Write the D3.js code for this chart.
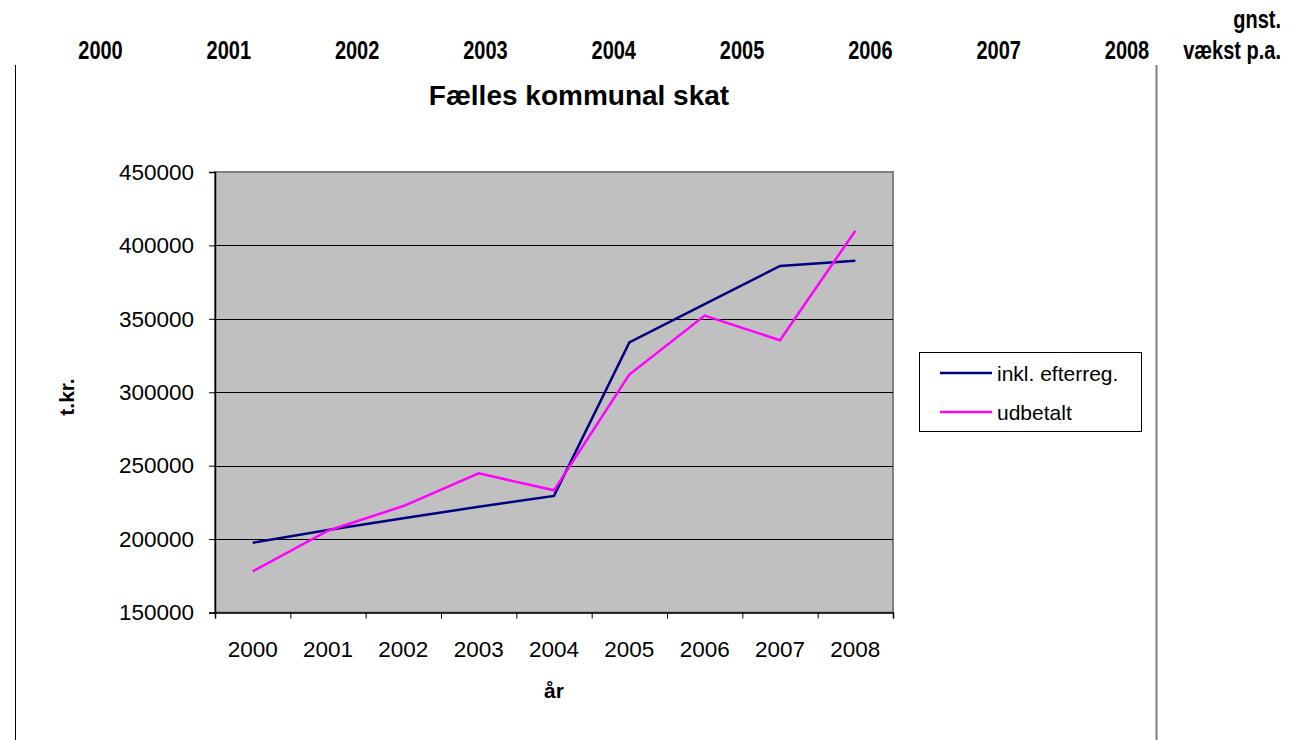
<!DOCTYPE html>
<html>
<head>
<meta charset="utf-8">
<script src="https://cdn.jsdelivr.net/npm/d3@7"></script>
<style>
  body { margin: 0; background: #fff; }
  svg { display: block; font-family: "Liberation Sans", Arial, sans-serif; }
  .hdr { font-weight: bold; font-size: 25px; }
</style>
</head>
<body>
<div id="chart"></div>
<script>
// data
var years = ["2000", "2001", "2002", "2003", "2004", "2005", "2006", "2007", "2008"];
var inklEfterreg = [197500, 206200, 214200, 222000, 229400, 334000, 360000, 386000, 389600];
var udbetalt = [178000, 205700, 222500, 244800, 233200, 312000, 352200, 335400, 410000];
var yTicks = [150000, 200000, 250000, 300000, 350000, 400000, 450000];
var headerCols = ["2000", "2001", "2002", "2003", "2004", "2005", "2006", "2007", "2008"];

var width = 1296;
var height = 740;

var plotL = 215, plotR = 893, plotT = 172, plotB = 612.5;
var narrow = 0.8; // header row uses a condensed bold face

var svg = d3.select("#chart").append("svg")
    .attr("width", width)
    .attr("height", height);

/* spreadsheet header row above the chart */
var hdrX = d3.scalePoint().domain(headerCols).range([100.5, 1127]);
svg.selectAll(".hdrYear")
    .data(headerCols).enter()
    .append("text")
    .attr("class", "hdr")
    .attr("transform", d => `translate(${hdrX(d)},59) scale(${narrow},1)`)
    .attr("text-anchor", "middle")
    .text(d => d);
svg.append("text").attr("class", "hdr")
    .attr("transform", `translate(1281,28) scale(${narrow},1)`)
    .attr("text-anchor", "end").text("gnst.");
svg.append("text").attr("class", "hdr")
    .attr("transform", `translate(1281,59) scale(${narrow},1)`)
    .attr("text-anchor", "end").text("vækst p.a.");

// chart object edges
svg.append("line").attr("x1", 15.5).attr("x2", 15.5).attr("y1", 65).attr("y2", height)
    .attr("stroke", "#000").attr("stroke-width", 1);
svg.append("line").attr("x1", 1156.5).attr("x2", 1156.5).attr("y1", 65).attr("y2", height)
    .attr("stroke", "#808080").attr("stroke-width", 2);

/* Scales */
var x = d3.scaleBand().domain(years).range([plotL, plotR]).padding(0);
var xEdge = d3.scaleLinear().domain([0, years.length]).range([plotL, plotR]);
var y = d3.scaleLinear().domain([150000, 450000]).range([plotB, plotT]);

// plot area
svg.append("rect")
    .attr("x", plotL).attr("y", plotT)
    .attr("width", plotR - plotL).attr("height", plotB - plotT)
    .attr("fill", "#c0c0c0")
    .attr("stroke", "#808080")
    .attr("stroke-width", 2);

// gridlines
svg.append("g")
    .selectAll("line")
    .data(yTicks.slice(1, -1)).enter()
    .append("line")
    .attr("x1", plotL).attr("x2", plotR)
    .attr("y1", d => Math.round(y(d)) + 0.5).attr("y2", d => Math.round(y(d)) + 0.5)
    .attr("stroke", "#000")
    .attr("stroke-width", 1);

/* Axes */
var yAxis = d3.axisLeft(y).tickValues(yTicks).tickSize(6).tickPadding(15).tickFormat(d => d);
var gy = svg.append("g")
    .attr("transform", `translate(${plotL},0)`)
    .call(yAxis);
gy.selectAll("text").style("font-size", "22.5px").attr("fill", "#000");
gy.selectAll("line").attr("stroke", "#000");
gy.select(".domain").attr("stroke", "#000").attr("stroke-width", 1.5);

var xTickAxis = d3.axisBottom(xEdge).tickValues(d3.range(years.length + 1)).tickSize(6).tickFormat("");
var gxt = svg.append("g")
    .attr("transform", `translate(0,${plotB})`)
    .call(xTickAxis);
gxt.selectAll("line").attr("stroke", "#000");
gxt.select(".domain").attr("stroke", "#000").attr("stroke-width", 1.5);

var xAxis = d3.axisBottom(x).tickSize(0).tickPadding(29);
var gx = svg.append("g")
    .attr("transform", `translate(0,${plotB})`)
    .call(xAxis);
gx.select(".domain").remove();
gx.selectAll("text").style("font-size", "22.5px").attr("fill", "#000");

/* Lines */
var line = d3.line()
    .x((d, i) => x(years[i]) + x.bandwidth() / 2)
    .y(d => y(d));

svg.append("path")
    .attr("d", line(inklEfterreg))
    .attr("fill", "none")
    .attr("stroke", "#000080")
    .attr("stroke-width", 2.5);
svg.append("path")
    .attr("d", line(udbetalt))
    .attr("fill", "none")
    .attr("stroke", "#ff00ff")
    .attr("stroke-width", 2.5);

/* Titles */
svg.append("text")
    .attr("x", 579).attr("y", 105)
    .attr("text-anchor", "middle")
    .style("font-size", "28px").style("font-weight", "bold")
    .text("Fælles kommunal skat");
svg.append("text")
    .attr("x", (plotL + plotR) / 2).attr("y", 698)
    .attr("text-anchor", "middle")
    .style("font-size", "21px").style("font-weight", "bold")
    .text("år");
svg.append("text")
    .attr("transform", "translate(74,397) rotate(-90)")
    .attr("text-anchor", "middle")
    .style("font-size", "21px").style("font-weight", "bold")
    .text("t.kr.");

/* Legend */
var legend = svg.append("g");
legend.append("rect")
    .attr("x", 919.5).attr("y", 352.5)
    .attr("width", 222).attr("height", 79)
    .attr("fill", "#fff").attr("stroke", "#000").attr("stroke-width", 1);
var legendItems = [
    {name: "inkl. efterreg.", color: "#000080", y: 373},
    {name: "udbetalt", color: "#ff00ff", y: 412}
];
legend.selectAll(".lg-line")
    .data(legendItems).enter()
    .append("line")
    .attr("x1", 940).attr("x2", 992)
    .attr("y1", d => d.y).attr("y2", d => d.y)
    .attr("stroke", d => d.color)
    .attr("stroke-width", 2.5);
legend.selectAll(".lg-text")
    .data(legendItems).enter()
    .append("text")
    .attr("x", 997).attr("y", d => d.y + 7.5)
    .style("font-size", "21px")
    .text(d => d.name);
</script>
</body>
</html>
